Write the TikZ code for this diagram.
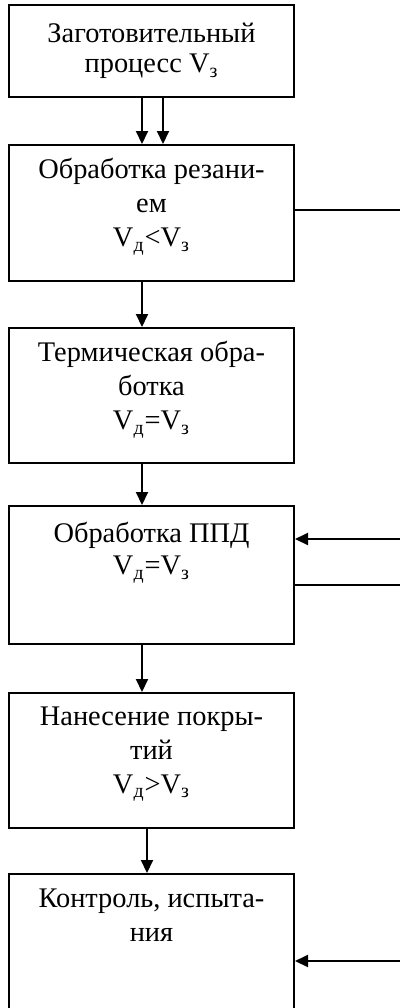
\documentclass[tikz,border=0pt]{standalone}
\usepackage{fontspec}
\setmainfont{Liberation Serif}
\usepackage{tikz}
\usetikzlibrary{arrows.meta, positioning}

\begin{document}
\begin{tikzpicture}[x=0.5pt, y=-0.5pt,
    stage/.style={draw, line width=1pt, minimum width=142.5pt, anchor=north, inner sep=0pt},
    stagetext/.style={align=center, inner sep=0pt, font=\fontsize{14.2}{17}\selectfont},
    flow/.style={-{Triangle[length=6.5pt, width=6pt]}, line width=1pt},
    link/.style={line width=1pt}]
    \useasboundingbox (0, 0) rectangle (400, 1008);
    \clip (0, 0) rectangle (400, 1008);

    % stages of the process
    \node[stage, minimum height=46pt] (b1) at (151.5, 4) {};
    \node[stage, minimum height=68pt] (b2) at (151.5, 144) {};
    \node[stage, minimum height=67.5pt] (b3) at (151.5, 327) {};
    \node[stage, minimum height=69pt] (b4) at (151.5, 505) {};
    \node[stage, minimum height=67.5pt] (b5) at (151.5, 692) {};
    \node[stage, minimum height=85pt] (b6) at (151.5, 873) {};

    \node[stagetext, below=9.5pt of b1.north] (t1) {Заготовительный\\[-2pt]процесс V\textsubscript{з}};
    \node[stagetext, below=7pt of b2.north] (t2) {Обработка резани-\\ем\\V\textsubscript{д}<V\textsubscript{з}};
    \node[stagetext, below=7pt of b3.north] (t3) {Термическая обра-\\ботка\\V\textsubscript{д}=V\textsubscript{з}};
    \node[stagetext, below=8.5pt of b4.north] (t4) {Обработка ППД\\[-1pt]V\textsubscript{д}=V\textsubscript{з}};
    \node[stagetext, below=7pt of b5.north] (t5) {Нанесение покры-\\тий\\V\textsubscript{д}>V\textsubscript{з}};
    \node[stagetext, below=7.5pt of b6.north] (t6) {Контроль, испыта-\\ния};

    % downward arrows
    \draw[flow] ([xshift=-4.75pt]b1.south) -- ([xshift=-4.75pt]b2.north);
    \draw[flow] ([xshift=5.75pt]b1.south) -- ([xshift=5.75pt]b2.north);
    \draw[flow] ([xshift=-4.75pt]b2.south) -- ([xshift=-4.75pt]b3.north);
    \draw[flow] ([xshift=-4.75pt]b3.south) -- ([xshift=-4.75pt]b4.north);
    \draw[flow] ([xshift=-4.75pt]b4.south) -- ([xshift=-4.75pt]b5.north);
    \draw[flow] ([xshift=-2.25pt]b5.south) -- ([xshift=-2.25pt]b6.north);

    % side lines
    \coordinate (r1) at (400, 210);
    \coordinate (r2) at (400, 539);
    \coordinate (r3) at (400, 585);
    \coordinate (r4) at (400, 961);
    \draw[link] (r1 -| b2.east) -- (r1);
    \draw[flow] (r2) -- (r2 -| b4.east);
    \draw[link] (r3 -| b4.east) -- (r3);
    \draw[flow] (r4) -- (r4 -| b6.east);
\end{tikzpicture}
\end{document}
